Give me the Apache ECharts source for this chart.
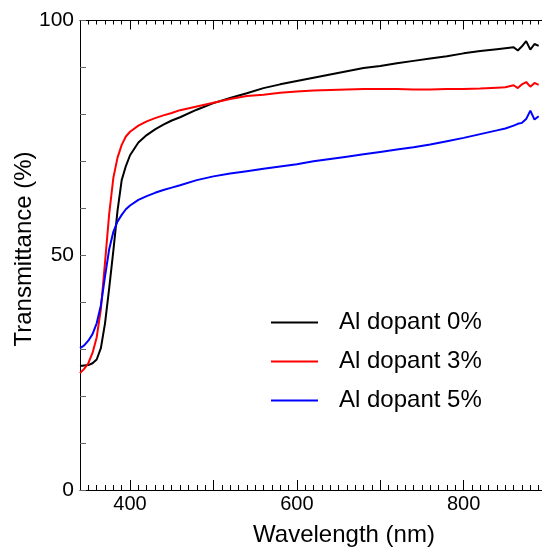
<!DOCTYPE html>
<html><head><meta charset="utf-8">
<script src="https://cdn.jsdelivr.net/npm/echarts@6/dist/echarts.min.js"></script>
<style>html,body{margin:0;padding:0;background:#fff}#c{width:542px;height:551px}</style>
</head><body><div id="c"></div>
<script>
const wavelengths = [340,345,350,355,360,365,370,375,380,385,390,395,400,410,420,430,440,450,460,480,500,520,540,560,580,600,620,640,660,680,700,720,740,760,780,800,820,840,850,860,865,870,875,880,885,890];
const dopant0 = [26.4,26.5,26.6,27.0,27.8,30.2,35.5,43.0,51.0,59.5,66.0,69.0,71.3,74.0,75.6,76.8,77.8,78.7,79.4,81.0,82.4,83.5,84.5,85.6,86.4,87.1,87.8,88.5,89.2,89.9,90.3,90.9,91.4,91.9,92.4,93.0,93.5,93.9,94.1,94.3,93.6,94.5,95.6,93.8,95.0,94.6];
const dopant3 = [24.9,25.8,27.0,29.2,32.5,38.5,48.5,58.8,66.5,70.8,73.5,75.3,76.3,77.6,78.5,79.2,79.8,80.3,80.9,81.7,82.5,83.3,83.9,84.2,84.6,84.9,85.1,85.2,85.3,85.4,85.4,85.4,85.3,85.3,85.4,85.4,85.5,85.7,85.8,86.2,85.6,86.4,86.9,85.9,86.7,86.3];
const dopant5 = [30.2,30.8,31.8,33.2,35.5,39.3,45.5,51.3,55.0,57.2,58.6,59.8,60.6,61.8,62.6,63.3,63.9,64.4,64.9,66.0,66.8,67.4,67.9,68.4,68.9,69.4,70.0,70.5,71.0,71.5,72.0,72.5,73.0,73.6,74.3,75.0,75.8,76.6,77.0,77.6,78.0,78.2,79.0,80.8,78.9,79.6];
const seriesNames = ['Al dopant 0%','Al dopant 3%','Al dopant 5%'];
const seriesColors = ['#000000','#ff0000','#0000ff'];
const xLabelValues = [400,600,800];
const xMajorTicks = [400,500,600,700,800];
const yLabelValues = [0,50,100];
const xTitle = 'Wavelength (nm)';
const yTitle = 'Transmittance (%)';

const FONT = 'Liberation Sans, Arial, sans-serif';
const X_MIN = 340, X_MAX = 894;
const chart = echarts.init(document.getElementById('c'), null, {renderer:'canvas'});
const seriesValues = [dopant0, dopant3, dopant5];

function xAxisBase(pos){
  return {type:'value', position:pos, min:X_MIN, max:X_MAX, splitLine:{show:false},
    axisLine:{show:true, onZero:false, lineStyle:{color:'#000', width:1}}};
}
const option = {
  animation:false,
  backgroundColor:'#fff',
  grid:{left:80, top:20.5, bottom:61, right:-3, containLabel:false},
  xAxis:[
    Object.assign(xAxisBase('bottom'), {interval:10,
      axisTick:{inside:true, length:5, lineStyle:{color:'#000'}},
      axisLabel:{formatter:v => xLabelValues.includes(v) ? String(v) : '', fontSize:20, color:'#000', fontFamily:FONT, margin:4, showMaxLabel:false}}),
    Object.assign(xAxisBase('bottom'), {axisLine:{show:false},
      axisTick:{inside:true, length:10, customValues:xMajorTicks, lineStyle:{color:'#000'}},
      axisLabel:{show:false}}),
    Object.assign(xAxisBase('top'), {interval:10,
      axisTick:{inside:true, length:4, lineStyle:{color:'#000'}},
      axisLabel:{show:false}}),
    Object.assign(xAxisBase('top'), {axisLine:{show:false},
      axisTick:{inside:true, length:9, customValues:xMajorTicks, lineStyle:{color:'#000'}},
      axisLabel:{show:false}})
  ],
  yAxis:[{type:'value', position:'left', min:0, max:100, interval:10, splitLine:{show:false},
    axisLine:{show:true, onZero:false, lineStyle:{color:'#000', width:1}},
    axisTick:{inside:true, length:6, lineStyle:{color:'#666'}},
    axisLabel:{formatter:v => yLabelValues.includes(v) ? String(v) : '', fontSize:21, color:'#000', fontFamily:FONT, margin:6}}],
  legend:{orient:'vertical', left:271, top:310.5, padding:0, itemWidth:47, itemHeight:2, itemGap:15,
    icon:'rect',
    data:seriesNames,
    textStyle:{fontSize:24, lineHeight:24, fontFamily:FONT, color:'#000', padding:[0,0,0,16]}},
  graphic:[
    {type:'text', x:344, y:535, style:{text:xTitle, font:'24px ' + FONT, fill:'#000', textAlign:'center', textVerticalAlign:'middle'}},
    {type:'text', x:24, y:249, rotation:Math.PI/2, style:{text:yTitle, font:'24px ' + FONT, fill:'#000', textAlign:'center', textVerticalAlign:'middle'}}
  ],
  series: seriesNames.map((name, k) => ({
    name, type:'line', xAxisIndex:0, yAxisIndex:0, symbol:'none', showSymbol:false,
    data: wavelengths.map((w, i) => [w, seriesValues[k][i]]),
    lineStyle:{color:seriesColors[k], width:2}, itemStyle:{color:seriesColors[k]}
  }))
};
chart.setOption(option);
</script></body></html>
